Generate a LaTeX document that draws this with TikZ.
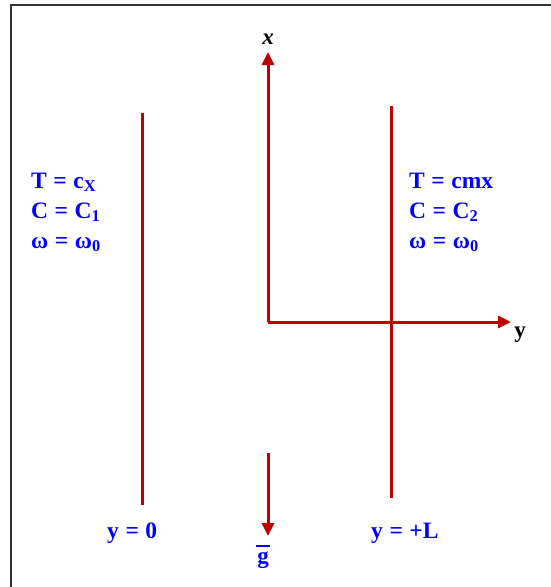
\documentclass[tikz,border=0pt]{standalone}
\usepackage{fontspec}
\setmainfont{Liberation Serif}
\usetikzlibrary{arrows.meta}
\definecolor{wallred}{RGB}{192,0,0}
\definecolor{txtblue}{RGB}{0,0,255}
\newcommand{\gapsp}{\hspace{0.28em}}
\tikzset{
  wall/.style={draw=wallred, line width=3pt},
  axis/.style={draw=wallred, line width=3pt, -{Triangle[length=13pt,width=12pt]}},
  lbl/.style={text=txtblue, font=\fontsize{23.5}{28}\selectfont\bfseries, inner sep=0pt, anchor=base west},
  axlbl/.style={text=black, font=\fontsize{23}{28}\selectfont\bfseries, inner sep=0pt, anchor=base},
}
\begin{document}
\begin{tikzpicture}[x=1pt,y=-1pt]
\useasboundingbox (0,0) rectangle (550,587);
\draw[line width=2pt, black!80] (11,590) -- (11,5) -- (553,5);
% walls
\coordinate (lwT) at (142,113); \coordinate (lwB) at (142,505);
\coordinate (rwT) at (391,106); \coordinate (rwB) at (391,498);
\draw[wall] (lwT) -- (lwB);
\draw[wall] (rwT) -- (rwB);
% axes
\coordinate (O) at (268,322);
\coordinate (xT) at (268,52);
\coordinate (yT) at (511,322);
\draw[axis] (O) -- (xT);
\draw[axis] (O) -- (yT);
\node[axlbl, font=\fontsize{23}{28}\selectfont\bfseries\itshape] (xl) at (268,44) {x};
\node[axlbl] (yl) at (520,337) {y};
% gravity
\coordinate (gS) at (268,453);
\coordinate (gE) at (268,536);
\draw[axis] (gS) -- (gE);
\node[axlbl, text=txtblue] (gl) at (263,563) {g};
\draw[txtblue, line width=2pt] (256,546) -- (270,546);
% left block
\node[lbl] (t1) at (31,188) {T\gapsp=\gapsp c\textsubscript{X}};
\node[lbl] (c1) at (31,218) {C\gapsp=\gapsp C\textsubscript{1}};
\node[lbl] (w1) at (31,248) {ω\gapsp=\gapsp ω\textsubscript{0}};
% right block
\node[lbl] (t2) at (409,188) {T\gapsp=\gapsp cmx};
\node[lbl] (c2) at (409,218) {C\gapsp=\gapsp C\textsubscript{2}};
\node[lbl] (w2) at (409,248) {ω\gapsp=\gapsp ω\textsubscript{0}};
% bottom labels
\node[lbl] (y0) at (107,538) {y\gapsp=\gapsp 0};
\node[lbl] (yL) at (371,538) {y\gapsp=\gapsp +L};
\end{tikzpicture}
\end{document}
